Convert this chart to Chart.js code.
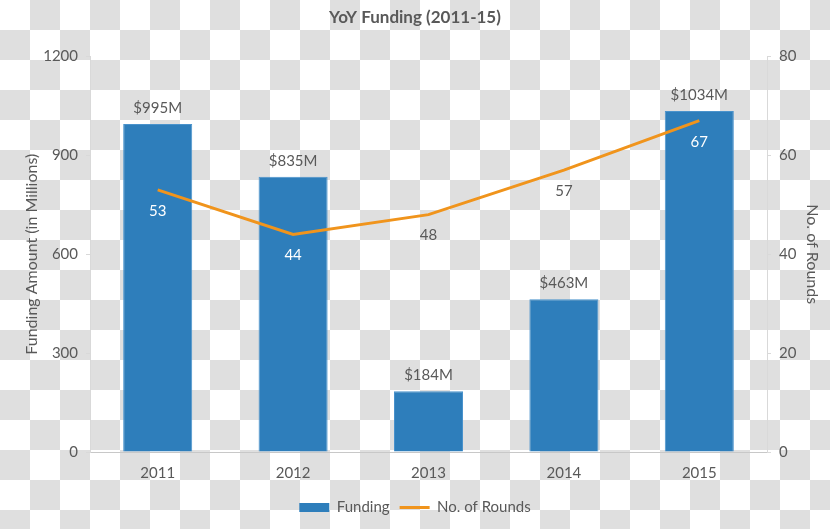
<!DOCTYPE html>
<html>
<head>
<meta charset="utf-8">
<script src="https://cdn.jsdelivr.net/npm/chart.js@4/dist/chart.umd.min.js"></script>
<style>
  html, body {
    margin: 0;
    padding: 0;
    width: 830px;
    height: 529px;
    overflow: hidden;
    background: repeating-conic-gradient(#dfdfdf 0 25%, #ffffff 0 50%) 0 0 / 60px 60px;
  }
  #wrap { position: relative; width: 830px; height: 529px; }
</style>
</head>
<body>
<div id="wrap"><canvas id="fundingChart"></canvas></div>
<script>
const years = ['2011', '2012', '2013', '2014', '2015'];
const funding = [995, 835, 184, 463, 1034];
const rounds = [53, 44, 48, 57, 67];
const fundingTicks = [0, 300, 600, 900, 1200];
const roundTicks = [0, 20, 40, 60, 80];

const textGray = '#595959';
const barBlue = '#2E7EBB';
const lineOrange = '#F0941C';
const fontFamily = 'Lato, "Open Sans", sans-serif';

// draws the value labels: "$xxxM" over the bars, round counts under the line points
const valueLabels = {
  id: 'valueLabels',
  afterDatasetsDraw(chart) {
    const ctx = chart.ctx;
    const bars = chart.getDatasetMeta(0).data;
    const points = chart.getDatasetMeta(1).data;
    ctx.save();
    ctx.font = `15px ${fontFamily}`;
    ctx.textAlign = 'center';
    ctx.textBaseline = 'middle';

    bars.forEach((bar, i) => {
      ctx.fillStyle = textGray;
      ctx.fillText(`$${funding[i]}M`, bar.x, bar.y - 16);
    });

    points.forEach((pt, i) => {
      const labelY = pt.y + 21;
      const insideBar = labelY > bars[i].y + 8;
      ctx.fillStyle = insideBar ? '#ffffff' : textGray;
      ctx.fillText(String(rounds[i]), pt.x, labelY);
    });
    ctx.restore();
  }
};

const ctx = document.getElementById('fundingChart').getContext('2d');

new Chart(ctx, {
  data: {
    labels: years,
    datasets: [
      {
        type: 'bar',
        label: 'Funding',
        data: funding,
        yAxisID: 'y',
        backgroundColor: barBlue,
        borderColor: '#4A93CC',
        borderWidth: 1,
        categoryPercentage: 1,
        barPercentage: 0.51,
        order: 2
      },
      {
        type: 'line',
        label: 'No. of Rounds',
        data: rounds,
        yAxisID: 'y1',
        borderColor: lineOrange,
        backgroundColor: lineOrange,
        borderWidth: 3,
        pointRadius: 0,
        tension: 0,
        fill: false,
        order: 1
      }
    ]
  },
  options: {
    responsive: true,
    maintainAspectRatio: false,
    animation: false,
    layout: { padding: { left: 0, right: 0, top: 0, bottom: 4 } },
    plugins: {
      title: {
        display: true,
        text: 'YoY Funding (2011-15)',
        color: textGray,
        font: { family: fontFamily, size: 17, weight: 'bold' },
        padding: { top: 7, bottom: 29 }
      },
      legend: {
        position: 'bottom',
        labels: {
          color: textGray,
          font: { family: fontFamily, size: 15 },
          usePointStyle: true,
          pointStyleWidth: 30,
          boxHeight: 9,
          padding: 10,
          generateLabels(chart) {
            return chart.data.datasets.map((ds, i) => ({
              text: ds.label,
              fillStyle: ds.type === 'bar' ? barBlue : lineOrange,
              strokeStyle: ds.type === 'bar' ? barBlue : lineOrange,
              lineWidth: ds.type === 'bar' ? 0 : 3,
              pointStyle: ds.type === 'bar' ? 'rect' : 'line',
              fontColor: textGray,
              datasetIndex: i
            }));
          }
        }
      },
      tooltip: { enabled: false }
    },
    scales: {
      x: {
        grid: { display: false },
        border: { display: true, color: '#c8c8c8', width: 1 },
        ticks: {
          color: textGray,
          font: { family: fontFamily, size: 15 },
          padding: 4
        },
        afterFit(scale) { scale.height = 38; }
      },
      y: {
        position: 'left',
        min: 0,
        max: 1200,
        afterBuildTicks(scale) { scale.ticks = fundingTicks.map(v => ({ value: v })); },
        grid: { drawOnChartArea: false, drawTicks: true, tickLength: 4, color: '#d9d9d9' },
        border: { display: true, color: '#d9d9d9', width: 1 },
        ticks: {
          color: textGray,
          font: { family: fontFamily, size: 15 },
          padding: 8,
          callback: value => String(value)
        },
        title: {
          display: true,
          text: 'Funding Amount (in Millions)',
          color: textGray,
          font: { family: fontFamily, size: 16 },
          padding: { top: 22, bottom: 0 }
        },
        afterFit(scale) { scale.width = 90; }
      },
      y1: {
        position: 'right',
        min: 0,
        max: 80,
        afterBuildTicks(scale) { scale.ticks = roundTicks.map(v => ({ value: v })); },
        grid: { drawOnChartArea: false, drawTicks: true, tickLength: 4, color: '#d9d9d9' },
        border: { display: true, color: '#d9d9d9', width: 1 },
        ticks: {
          color: textGray,
          font: { family: fontFamily, size: 15 },
          padding: 8,
          callback: value => String(value)
        },
        title: {
          display: true,
          text: 'No. of Rounds',
          color: textGray,
          font: { family: fontFamily, size: 16 },
          padding: { top: 8, bottom: 0 }
        },
        afterFit(scale) { scale.width = 63; }
      }
    }
  },
  plugins: [valueLabels]
});
</script>
</body>
</html>
